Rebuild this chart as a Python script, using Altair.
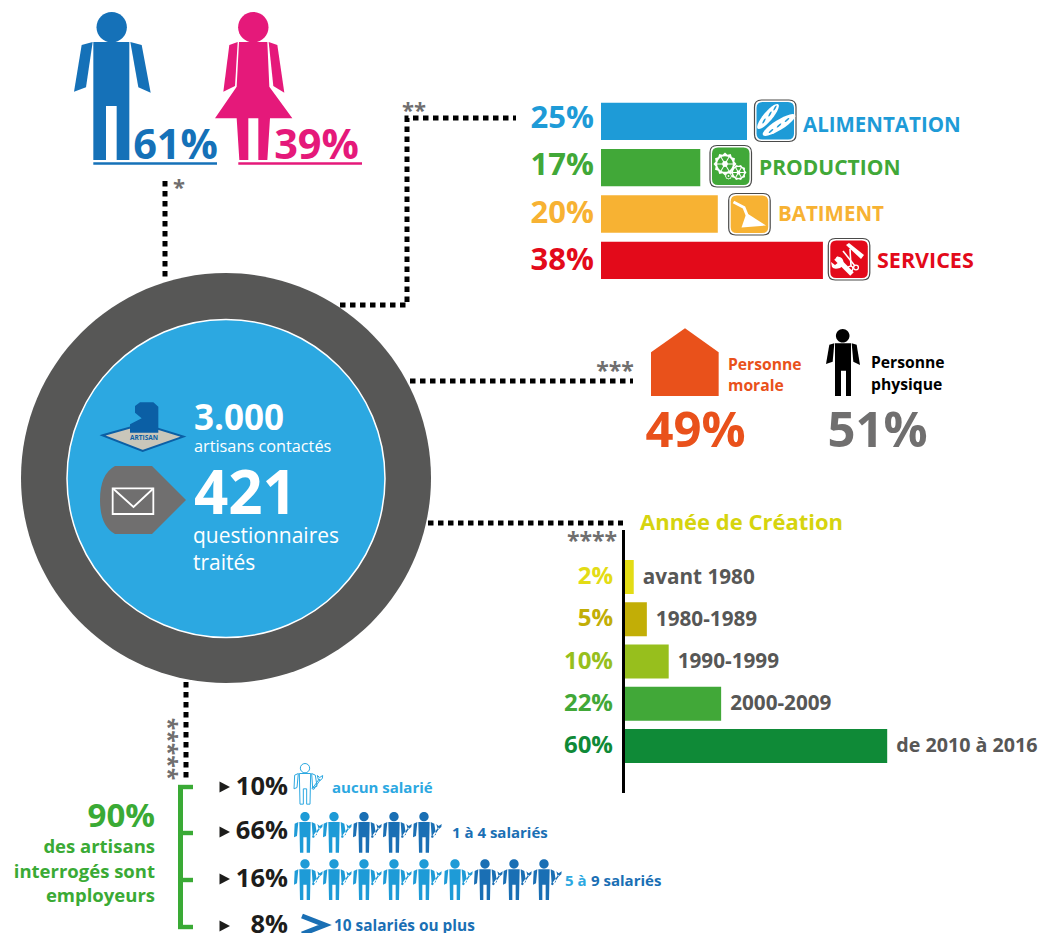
import math
import altair as alt
import pandas as pd

# ---------- data ----------
gender_labels = ["61%", "39%"]
sector_names = ["ALIMENTATION", "PRODUCTION", "BATIMENT", "SERVICES"]
sector_values = [25, 17, 20, 38]
legal_labels = ["Personne morale", "Personne physique"]
legal_values = [49, 51]
year_names = ["avant 1980", "1980-1989", "1990-1999", "2000-2009", "de 2010 à 2016"]
year_values = [2, 5, 10, 22, 60]
staff_values = [10, 66, 16, 8]
staff_light = [0, 2, 6]
staff_dark = [0, 3, 3]

# ---------- palette ----------
BLUE, PINK = "#1571b8", "#e5197a"
SECTOR = ["#1e9bd7", "#41a838", "#f7b233", "#e30a1a"]
YEAR = ["#e3dc15", "#c2ae06", "#97bf1d", "#41a838", "#0f8a37"]
RING, SKY, GREY = "#575756", "#2ca8e1", "#706f6f"
ORANGE, GREEN, INK = "#e9511b", "#3aaa35", "#1d1d1b"
LIGHTW, DARKW = "#1e9bd7", "#1a6fb4"
FONT = "Open Sans"

W, H = 1032, 925
SX = alt.Scale(domain=[8, 8 + W], range=[0, W], nice=False, zero=False)
SY = alt.Scale(domain=[8, 8 + H], range=[0, H], nice=False, zero=False)
PX = alt.X("x:Q", scale=SX, axis=None)
PY = alt.Y("y:Q", scale=SY, axis=None)
layers = []


# ---------- geometry helpers ----------
def poly(pts):
    return "M" + " L".join(f"{x:.2f},{y:.2f}" for x, y in pts) + " Z"


def circ(cx, cy, r):
    return f"M{cx-r:.2f},{cy:.2f} A{r:.2f},{r:.2f} 0 1,1 {cx+r:.2f},{cy:.2f} A{r:.2f},{r:.2f} 0 1,1 {cx-r:.2f},{cy:.2f} Z"


def rrect(x0, y0, x1, y1, r):
    return (f"M{x0+r},{y0} L{x1-r},{y0} Q{x1},{y0} {x1},{y0+r} L{x1},{y1-r} Q{x1},{y1} {x1-r},{y1} "
            f"L{x0+r},{y1} Q{x0},{y1} {x0},{y1-r} L{x0},{y0+r} Q{x0},{y0} {x0+r},{y0} Z")


def ellipse(cx, cy, a, b, deg, n=28):
    t = math.radians(deg)
    return poly([(cx + a * math.cos(i * 2 * math.pi / n) * math.cos(t) - b * math.sin(i * 2 * math.pi / n) * math.sin(t),
                  cy + a * math.cos(i * 2 * math.pi / n) * math.sin(t) + b * math.sin(i * 2 * math.pi / n) * math.cos(t))
                 for i in range(n)])


def thick(x0, y0, x1, y1, w):
    dx, dy = x1 - x0, y1 - y0
    l = math.hypot(dx, dy)
    nx, ny = -dy / l * w / 2, dx / l * w / 2
    return poly([(x0 + nx, y0 + ny), (x1 + nx, y1 + ny), (x1 - nx, y1 - ny), (x0 - nx, y0 - ny)])


def gear(cx, cy, r, n):
    pts = []
    for i in range(n * 2):
        a = i * math.pi / n
        rr = r if i % 2 == 0 else r * 0.84
        pts.append((cx + rr * math.cos(a), cy + rr * math.sin(a)))
    return poly(pts)


def shape(path, fill=None, stroke=None, sw=0):
    kw = dict(shape=path, size=4, opacity=1, filled=fill is not None, strokeWidth=sw)
    if fill is not None:
        kw["fill"] = fill
    if stroke is not None:
        kw["stroke"] = stroke
    layers.append(alt.Chart(pd.DataFrame({"x": [0], "y": [0]})).mark_point(**kw).encode(x=PX, y=PY))


def texts(rows, weight="bold", align="left", font=FONT, angle=0):
    df = pd.DataFrame(rows, columns=["t", "x", "y", "s", "c"])
    layers.append(
        alt.Chart(df).mark_text(font=font, fontWeight=weight, align=align, baseline="alphabetic", angle=angle).encode(
            x=PX, y=PY, text="t:N", size=alt.Size("s:Q", scale=None), color=alt.Color("c:N", scale=None)))


def dotted(pts):
    df = pd.DataFrame({"x": [p[0] for p in pts], "y": [p[1] for p in pts], "i": range(len(pts))})
    layers.append(alt.Chart(df).mark_line(color="#000000", strokeWidth=5, strokeDash=[5.5, 4.5], strokeCap="butt", strokeJoin="miter").encode(
        x=PX, y=PY, order="i:Q"))


def z(ox, oy, pts, k=3):
    return [(ox + a / k, oy + b / k) for a, b in pts]


# ---------- dotted connectors ----------
dotted([(165, 181), (165, 280)])
dotted([(340, 305), (407, 305), (407, 118), (516, 118)])
dotted([(410, 381), (633, 381)])
dotted([(428, 523), (623, 523)])
dotted([(186, 682), (186, 781)])

# ---------- central ring ----------
shape(circ(226, 478, 205), fill=RING)
shape(circ(226, 478.5, 159), fill=SKY, stroke="#ffffff", sw=1.5)

# artisan logo
o = (90, 390)
shape(poly(z(*o, [(38, 136), (158, 102), (280, 140), (158, 183)])), fill="#c9c6ba", stroke="#0b5fa5", sw=2)
shape(poly(z(*o, [(120, 128), (120, 103), (155, 85), (135, 68), (135, 48), (150, 37), (190, 37), (205, 50), (205, 128)])), fill="#0b5fa5")
# envelope badge
shape("M115,466 L152,466 L186,500 L152,534 L115,534 Q100,526 100,500 Q100,474 115,466 Z", fill=GREY)
shape(poly(z(*o, [(68, 295), (190, 295), (190, 372), (68, 372)])), stroke="#ffffff", sw=1.8)
shape("M113,488.5 L133.5,507 L153.3,488.5", stroke="#ffffff", sw=1.8)

texts([("ARTISAN", 144, 440, 6.5, "#0b5fa5")], align="center")
texts([("3.000", 194, 429.5, 35, "#ffffff"), ("421", 194, 514, 60, "#ffffff")])
texts([("artisans contactés", 194, 452, 16.3, "#ffffff"),
       ("questionnaires", 193, 543, 21, "#ffffff"),
       ("traités", 193, 570, 21, "#ffffff")], weight="normal")

# ---------- gender ----------
shape(circ(111.7, 27.3, 15.2), fill=BLUE)
shape(poly(z(60, 0, [(100, 126), (208, 126), (208, 480), (170, 480), (170, 318), (138, 318), (138, 480), (100, 480)])), fill=BLUE)
shape(poly(z(60, 0, [(65, 135), (98, 126), (78, 262), (42, 275)])), fill=BLUE)
shape(poly(z(60, 0, [(211, 126), (245, 135), (272, 278), (235, 262)])), fill=BLUE)
shape(circ(253.3, 27.3, 15.2), fill=PINK)
shape(poly(z(60, 0, [(537, 126), (622, 126), (628, 260), (697, 355), (630, 355), (622, 480), (595, 480), (595, 355), (565, 355),
                     (565, 480), (538, 480), (530, 355), (465, 355), (530, 260)])), fill=PINK)
shape(poly(z(60, 0, [(508, 135), (533, 126), (525, 258), (490, 275)])), fill=PINK)
shape(poly(z(60, 0, [(626, 126), (652, 135), (673, 278), (640, 258)])), fill=PINK)
shape("M93.3,163.5 L217,163.5", stroke=BLUE, sw=2.6)
shape("M238.3,163.5 L362,163.5", stroke=PINK, sw=2.6)
texts([(gender_labels[0], 218, 158.5, 41.5, BLUE), (gender_labels[1], 359, 158.5, 41.5, PINK)], align="right")

# ---------- asterisks ----------
stars = [("*", 179, 195, 22, GREY), ("**", 414, 118, 22, GREY), ("***", 615, 379, 23, GREY), ("****", 592, 549, 23, GREY)]
texts(stars, align="center")
texts([("*****", 160, 749, 23, GREY)], align="center", angle=90)

# ---------- sector bars ----------
sec = pd.DataFrame({"n": sector_names, "v": sector_values, "c": SECTOR})
sec_y = alt.Y("n:N", scale=alt.Scale(type="band", domain=sector_names, range=[94.7, 271], paddingInner=0.194, paddingOuter=0), axis=None)
sec_x = alt.X("v:Q", scale=alt.Scale(domain=[0, 100], range=[593, 1177], nice=False), axis=None)
layers.append(alt.Chart(sec).mark_bar().encode(x=sec_x, y=sec_y, color=alt.Color("c:N", scale=None)))
texts([(f"{v}%", 594, y, 31, c) for v, y, c in zip(sector_values, (127.7, 175, 222.5, 270), SECTOR)], align="right")
texts([(sector_names[0], 803, 132, 20.5, SECTOR[0]), (sector_names[1], 759, 175, 21, SECTOR[1]),
       (sector_names[2], 778, 221, 20.5, SECTOR[2]), (sector_names[3], 877, 268, 21.5, SECTOR[3])])

# sector badges
for (x0, y0, c) in [(754.5, 100, SECTOR[0]), (710, 145.5, SECTOR[1]), (728.7, 193.5, SECTOR[2]), (828.3, 238.5, SECTOR[3])]:
    shape(rrect(x0, y0, x0 + 41.5, y0 + 41.5, 7), fill="#ffffff", stroke="#4a4a49", sw=1.2)
    shape(rrect(x0 + 2, y0 + 2, x0 + 39.5, y0 + 39.5, 6), fill=c)
# baguettes
shape(ellipse(768, 116.5, 16, 4.6, -50), fill="#ffffff")
shape(ellipse(779, 125, 19, 5, -32), fill="#ffffff")
for cx, cy, d in [(764, 121, -50), (770, 114, -50), (775, 108, -50), (771, 131, -32), (779, 125.5, -32), (787, 120, -32)]:
    shape(ellipse(cx, cy, 3, 0.8, d - 10), fill=SECTOR[0])
# gears
for cx, cy, r, n in [(725, 164, 11.5, 12), (738.5, 172.5, 8, 10), (728.5, 176, 3.6, 8)]:
    shape(gear(cx, cy, r, n), fill="#ffffff")
    shape(circ(cx, cy, r * 0.68), fill=SECTOR[1])
    shape(circ(cx, cy, r * 0.25), fill="#ffffff")
    for k in range(6 if r > 4 else 0):
        a = k * math.pi / 3
        shape(thick(cx, cy, cx + r * 0.7 * math.cos(a), cy + r * 0.7 * math.sin(a), 1), fill="#ffffff")
# trowel
shape("M733.5,202 L744,207.5 L747,215", stroke="#ffffff", sw=3)
shape(poly([(746.5, 213), (766, 225.5), (741.5, 227.5)]), fill="#ffffff")
# tools
shape(poly([(846, 245), (849, 243), (864, 255), (861, 259)]), fill="#ffffff")
shape(thick(836, 258, 852, 274, 5), fill="#ffffff")
shape("M831,262 L835,265 L839,262 L836,257 Q841,256 843,260 Q845,265 840,268 Q834,270 832,267 Z", fill="#ffffff")
shape(thick(843, 251, 855, 266, 1.6), fill="#ffffff")
shape(thick(850, 249, 851, 266, 1.6), fill="#ffffff")
shape(circ(856, 267.5, 2.4), stroke="#ffffff", sw=1.3)
shape(circ(850.5, 268.5, 2.4), stroke="#ffffff", sw=1.3)

# ---------- legal form ----------
shape(poly(z(590, 320, [(183, 97), (285, 25), (386, 97), (386, 228), (183, 228)])), fill=ORANGE)
shape(circ(842.7, 335.7, 6.8), fill="#000000")
shape(poly(z(590, 320, [(735, 70), (783, 70), (783, 228), (768, 228), (768, 152), (753, 152), (753, 228), (735, 228)])), fill="#000000")
shape(poly(z(590, 320, [(718, 74), (733, 70), (728, 125), (708, 132)])), fill="#000000")
shape(poly(z(590, 320, [(785, 70), (800, 74), (810, 135), (790, 125)])), fill="#000000")
a, b = legal_labels[0].split(" ")
c, d = legal_labels[1].split(" ")
texts([(a, 728, 370, 15.7, ORANGE), (b, 728, 391, 15.7, ORANGE), (c, 871, 368, 15.7, "#000000"), (d, 871, 390, 15.7, "#000000")])
texts([(f"{legal_values[0]}%", 695.5, 447, 49, ORANGE), (f"{legal_values[1]}%", 877.5, 447, 49, GREY)], align="center")

# ---------- year of creation ----------
yrs = pd.DataFrame({"n": year_names, "v": year_values, "c": YEAR, "l": [f"{v}%" for v in year_values],
                    "s": [20.7, 20.7, 20.7, 20.7, 19.7]})
yr_y = alt.Y("n:N", scale=alt.Scale(type="band", domain=year_names, range=[552, 755], paddingInner=0.195, paddingOuter=0), axis=None)
yr_x = alt.X("v:Q", scale=alt.Scale(domain=[0, 100], range=[617, 1054], nice=False), axis=None)
layers.append(alt.Chart(yrs).mark_bar().encode(x=yr_x, y=yr_y, color=alt.Color("c:N", scale=None)))
layers.append(alt.Chart(yrs).mark_text(font=FONT, fontWeight="bold", align="left", baseline="alphabetic", dy=6.5, dx=9, color=RING).encode(
    x=yr_x, y=yr_y, text="n:N", size=alt.Size("s:Q", scale=None)))
layers.append(alt.Chart(yrs).mark_text(font=FONT, fontWeight="bold", align="right", baseline="alphabetic", fontSize=24, dy=7).encode(
    x=alt.value(605), y=yr_y, text="l:N", color=alt.Color("c:N", scale=None)))
shape("M623.5,530 L623.5,793", stroke="#000000", sw=3)
texts([("Année de Création", 640, 530, 22, "#d6d40e")])

# ---------- staff ----------
shape("M180.5,786 L180.5,928", stroke=GREEN, sw=5)
for ty in (787, 833, 880, 927):
    shape(f"M178,{ty} L193,{ty}", stroke=GREEN, sw=4.4)
texts([("90%", 155, 827, 33, GREEN), ("des artisans", 155, 853, 18.5, GREEN), ("interrogés sont", 155, 877.5, 18.5, GREEN),
       ("employeurs", 155, 902, 18.5, GREEN)], align="right")
for ty in (787, 832, 879, 926):
    shape(poly([(219.5, ty - 5.5), (230, ty), (219.5, ty + 5.5)]), fill=INK)
texts([(f"{staff_values[0]}%", 288, 794.5, 25.5, INK), (f"{staff_values[1]}%", 288, 838.5, 25.5, INK),
       (f"{staff_values[2]}%", 288, 887, 25.5, INK), (f"{staff_values[3]}%", 288, 933, 25.5, INK)], align="right")

WORKER = " ".join([
    circ(0, 14 / 3, 14 / 3),
    poly([(a / 3, b / 3) for a, b in [(-17, 30), (17, 30), (15, 122), (5, 122), (5, 76), (-5, 76), (-5, 122), (-15, 122)]]),
    poly([(a / 3, b / 3) for a, b in [(-31, 35), (-20, 30), (-24, 72), (-33, 76)]]),
    poly([(a / 3, b / 3) for a, b in [(20, 30), (31, 35), (36, 68), (23, 74)]]),
    thick(27 / 3, 72 / 3, 44 / 3, 48 / 3, 1.4),
    poly([(a / 3, b / 3) for a, b in [(40, 48), (37, 36), (44, 42), (53, 36), (52, 45), (45, 51)]]),
    circ(25 / 3, 74 / 3, 1.2),
])
worker_x = [305, 334, 364, 394, 424, 455, 485, 514, 544]
rows = []
for top, nl, nd in zip((812, 859.3), staff_light[1:], staff_dark[1:]):
    for i in range(nl + nd):
        rows.append({"x": worker_x[i], "y": top, "c": LIGHTW if i < nl else DARKW})
layers.append(alt.Chart(pd.DataFrame(rows)).mark_point(shape=WORKER, size=4, filled=True, opacity=1, strokeWidth=0).encode(
    x=PX, y=PY, fill=alt.Fill("c:N", scale=None)))
layers.append(alt.Chart(pd.DataFrame({"x": [305], "y": [763.5]})).mark_point(shape=WORKER, size=4, filled=False, opacity=1, strokeWidth=1, stroke=SKY).encode(x=PX, y=PY))
shape("M302,916 L325,925 L302,934", stroke=DARKW, sw=5)
texts([("aucun salarié", 332, 793, 15, SKY), ("1 à 4 salariés", 452, 837.5, 15, DARKW), ("5 à", 565, 885.5, 15, SKY),
       ("9 salariés", 591, 885.5, 15, DARKW), ("10 salariés ou plus", 334, 931, 15.4, DARKW)])

chart = alt.layer(*layers).resolve_scale(x="independent", y="independent").properties(
    width=W, height=H, padding=0, autosize=alt.AutoSizeParams(type="none"), background="#ffffff"
).configure_view(stroke=None)
chart.save("out.html", embed_options={"renderer": "svg", "actions": False})
